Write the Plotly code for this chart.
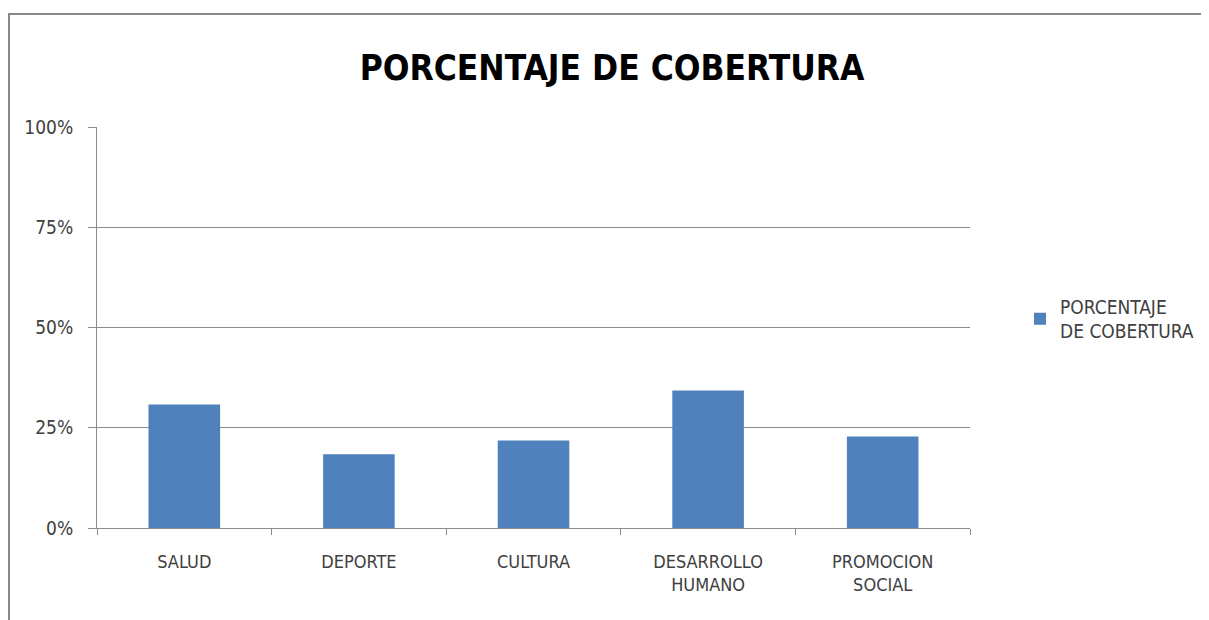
import plotly.graph_objects as go

categories = ["SALUD", "DEPORTE", "CULTURA", "DESARROLLO<br>HUMANO", "PROMOCION<br>SOCIAL"]
values = [0.308, 0.184, 0.218, 0.343, 0.228]
series_name = "PORCENTAJE<br>DE COBERTURA"
title_text = "PORCENTAJE DE COBERTURA"
y_ticks = [0, 0.25, 0.5, 0.75, 1.0]
y_tick_labels = ["0%", "25%", "50%", "75%", "100%"]

FONT = "DejaVu Sans Condensed, DejaVu Sans, sans-serif"
GRID = "#8c8c8c"
OFF = 8  # page body margin offset

fig = go.Figure()
fig.add_trace(go.Bar(
    x=categories, y=values, name=series_name,
    marker=dict(color="#4F81BD", line=dict(width=0)),
    showlegend=True,
))

W, H = 1209, 620
# desired screen positions of plot area
SL, SR, ST, SB = 97, 970, 127, 528
L, T = SL - OFF, ST - OFF
R = W - (SR - OFF)
B = H - (SB - OFF)
pw, ph = W - L - R, H - T - B

def px_x(p):
    return (p - OFF - L) / pw

def px_y(p):
    return (SB - p) / ph

fig.update_layout(
    width=W, height=H,
    margin=dict(l=L, r=R, t=T, b=B),
    paper_bgcolor="white", plot_bgcolor="white",
    bargap=0.59,
    title=dict(text="<b>" + title_text + "</b>", x=(612 - OFF) / W, xanchor="center",
               y=1 - (68 - OFF) / H, yanchor="middle",
               font=dict(family=FONT, size=35, color="#000000")),
    font=dict(family=FONT, color="#404040"),
    xaxis=dict(
        showline=True, linecolor=GRID, linewidth=1,
        ticks="outside", ticklen=6, tickcolor=GRID, tickson="boundaries",
        tickfont=dict(family=FONT, size=18, color="#404040"),
        ticklabelstandoff=17,
        showgrid=False,
    ),
    yaxis=dict(
        range=[0, 1], tickvals=y_ticks, ticktext=y_tick_labels,
        showline=True, linecolor=GRID, linewidth=1,
        ticks="outside", ticklen=8, tickcolor=GRID,
        showgrid=True, gridcolor=GRID, gridwidth=1,
        tickfont=dict(family=FONT, size=19, color="#404040"),
        ticklabelstandoff=11,
        zeroline=False,
    ),
    legend=dict(x=px_x(1020), xanchor="left", y=px_y(319), yanchor="middle",
                font=dict(family=FONT, size=19, color="#404040"),
                bgcolor="rgba(0,0,0,0)", itemwidth=30),
    shapes=[dict(type="rect", xref="paper", yref="paper",
                 x0=px_x(OFF + 1), x1=px_x(1240), y0=px_y(650), y1=px_y(14),
                 line=dict(color="#888888", width=2), layer="above")],
)

fig.write_html("out.html")
